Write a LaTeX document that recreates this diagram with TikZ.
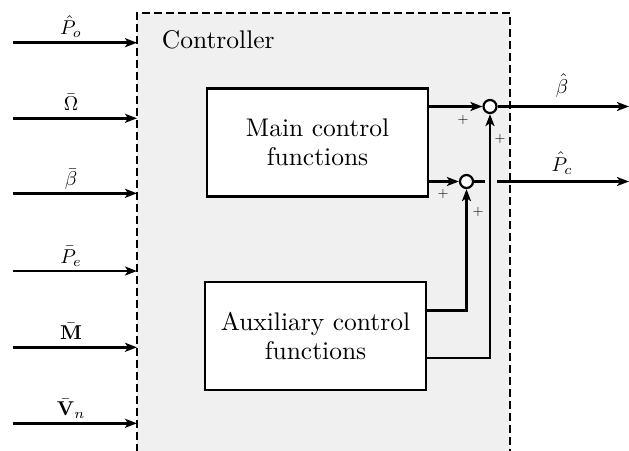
\documentclass[tikz,border=0pt]{standalone}
\usepackage{amsmath}
\usepackage[no-math]{fontspec}
\setmainfont{lmroman10-regular}[Extension=.otf]
\usetikzlibrary{arrows.meta}
\definecolor{ctrlfill}{RGB}{240,240,240}
\newcommand{\mlab}[1]{\scalebox{2.0}{#1}}
\newcommand{\plab}[1]{\scalebox{1.4}{#1}}
\begin{document}
\begin{tikzpicture}[x=1pt,y=-1pt,
  wire/.style={line width=2.6pt,-{Stealth[length=12pt,width=9pt,inset=3pt]}},
  plainwire/.style={line width=2.6pt},
  block/.style={draw,line width=2.2pt,fill=white,minimum width=221pt,minimum height=108pt,align=center,font=\fontsize{25.5}{29}\selectfont},
  sumpt/.style={draw,circle,line width=2.2pt,fill=white,minimum size=13pt,inner sep=0pt},
  lbl/.style={anchor=base,inner sep=0pt},
  pl/.style={inner sep=0pt}]
\useasboundingbox (0,0) rectangle (629,450);
% controller area
\fill[ctrlfill] (137,13) rectangle (510,452);
\draw[line width=2.2pt,dash pattern=on 8pt off 4pt] (137,452) -- (137,13) -- (510,13) -- (510,452);
\node[anchor=west,inner sep=0pt,font=\fontsize{25.5}{30}\selectfont] (ctl) at (161.7,40) {Controller};
% inputs
\foreach \i/\y/\t in {1/42.7/{$\hat{P}_o$},2/118.3/{$\bar{\Omega}$},3/193.3/{$\bar{\beta}$},4/271/{$\bar{P}_e$},5/347.3/{$\bar{\mathbf{M}}$},6/423.3/{$\bar{\mathbf{V}}_n$}}{
  \coordinate (a\i) at (12.7,\y);
  \coordinate (b\i) at (137,\y);
  \draw[wire] (a\i) -- (b\i);
  \node[lbl] (l\i) at (71,\y-8) {\mlab{\t}};
}
% blocks
\node[block] (main) at (317.5,142.5) {Main control\\functions};
\node[block] (aux) at (315.5,336) {Auxiliary control\\functions};
% summing points
\node[sumpt] (s1) at (490,106.5) {};
\node[sumpt] (s2) at (466.5,181.5) {};
% main to sums
\draw[wire] (main.east |- s1) -- (s1);
\draw[wire] (main.east |- s2) -- (s2);
% aux to sums
\coordinate (x1) at (426,310.5);
\coordinate (x2) at (426,358);
\draw[wire] (x1) -| (s2);
\draw[wire] (x2) -| (s1);
% outputs
\coordinate (o1) at (629,106.5);
\coordinate (o2) at (629,181.5);
\coordinate (g1) at (484.5,181.5);
\coordinate (g2) at (496.5,181.5);
\draw[wire] (s1) -- (o1);
\draw[plainwire] (s2) -- (g1);
\draw[wire] (g2) -- (o2);
\node[lbl] (lo1) at (562,93) {\mlab{$\hat{\beta}$}};
\node[lbl] (lo2) at (562,171) {\mlab{$\hat{P}_c$}};
% plus signs
\node[pl] (p1) at (463,120) {\plab{$+$}};
\node[pl] (p2) at (500,139) {\plab{$+$}};
\node[pl] (p3) at (443,194) {\plab{$+$}};
\node[pl] (p4) at (478,212) {\plab{$+$}};
\end{tikzpicture}
\end{document}
